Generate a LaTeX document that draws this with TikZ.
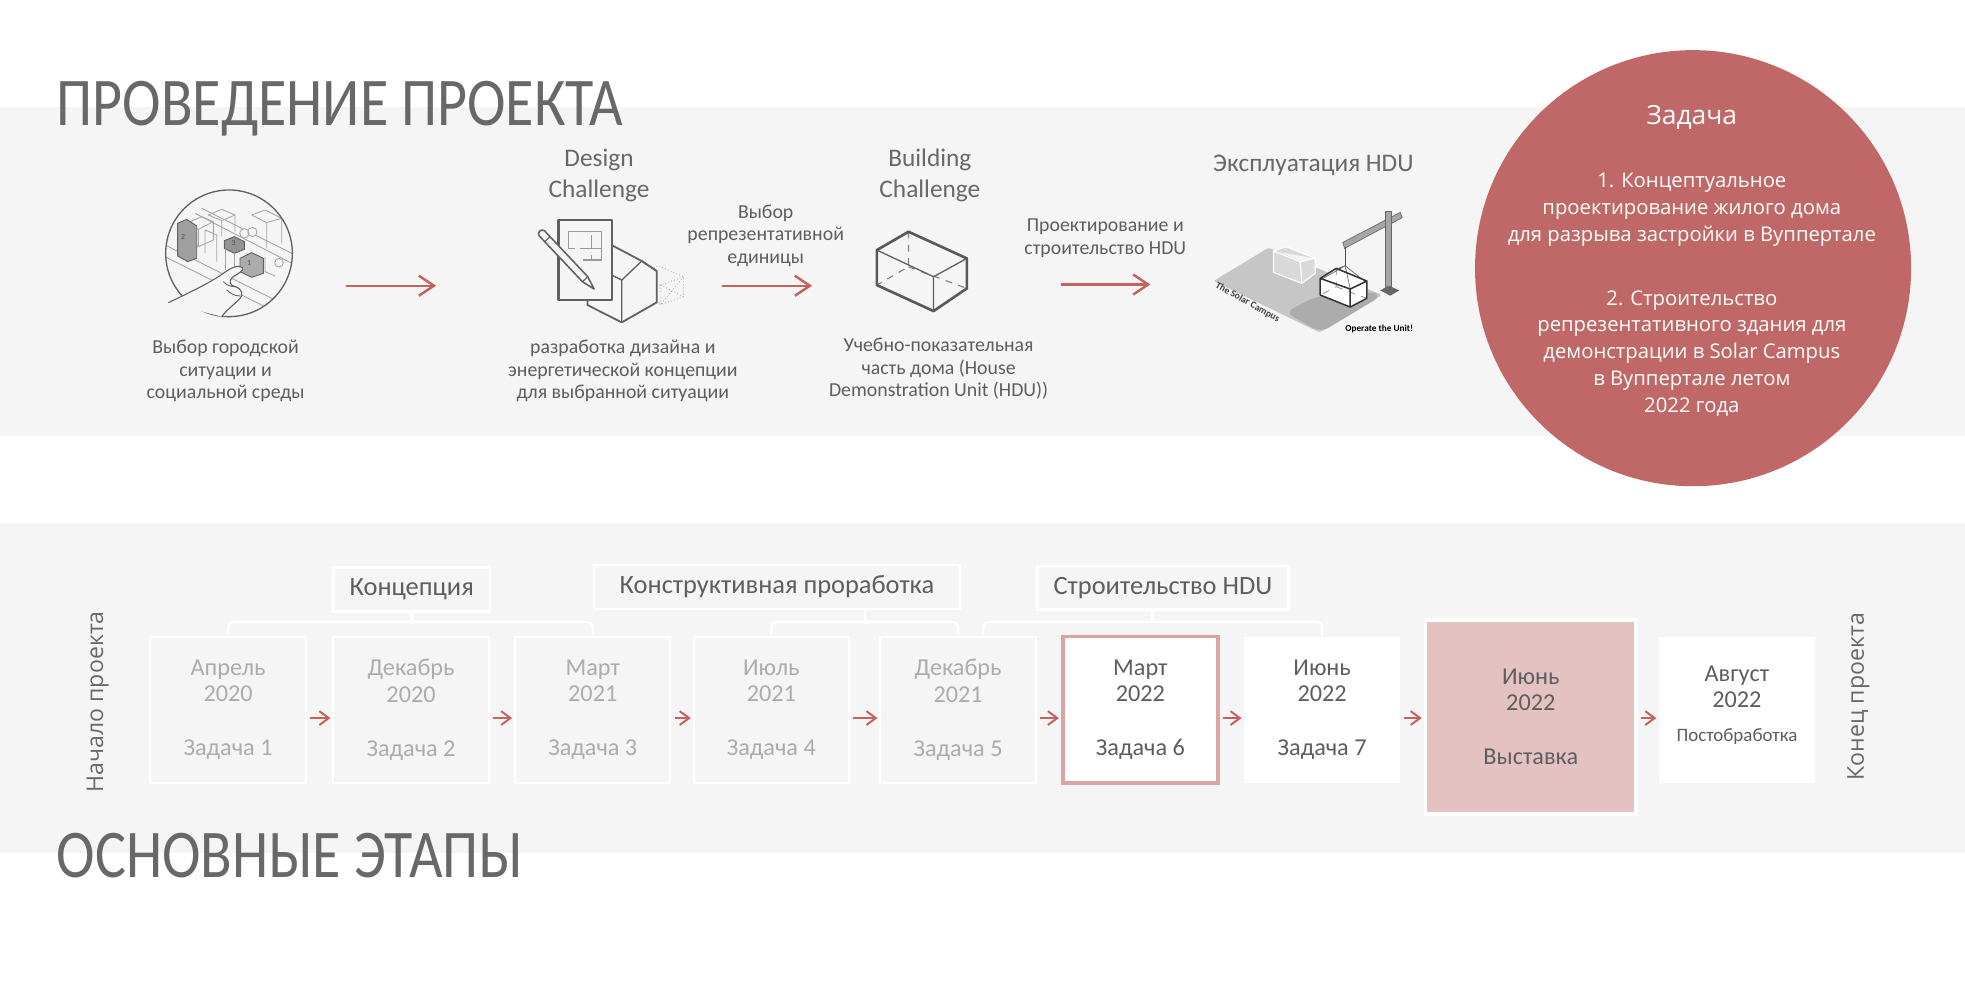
\documentclass[tikz,border=0pt]{standalone}
\usepackage{fontspec}
\setmainfont{Carlito}
\newfontfamily\titlefont[FakeStretch=0.85]{Carlito}
\newfontfamily\roundfont{Open Sans}
\usetikzlibrary{arrows.meta, positioning, calc}
\definecolor{BandGrey}{RGB}{245,245,245}
\definecolor{TextGrey}{RGB}{94,94,94}
\definecolor{TitleGrey}{RGB}{104,104,104}
\definecolor{FadeGrey}{RGB}{172,172,172}
\definecolor{ArrowRed}{RGB}{196,98,96}
\definecolor{TaskRed}{RGB}{192,104,104}
\definecolor{RoseLine}{RGB}{219,163,163}
\definecolor{RoseFill}{RGB}{228,194,194}
\definecolor{IconGrey}{RGB}{96,96,96}

\tikzset{
  bandfill/.style={fill=BandGrey},
  titletxt/.style={anchor=base west, inner sep=0pt, text=TitleGrey, font=\titlefont\fontsize{31}{31}\selectfont},
  lbltxt/.style={align=center, text=TextGrey, inner sep=0pt, font=\fontsize{9}{10.2}\selectfont},
  headtxt/.style={align=center, text=TitleGrey, inner sep=0pt, font=\fontsize{11.5}{13.7}\selectfont},
  flowarr/.style={draw=ArrowRed, line width=1.1pt, -{Straight Barb[length=2.4mm, width=3.2mm]}},
  linkarr/.style={draw=ArrowRed, line width=0.9pt, -{Straight Barb[length=1.5mm, width=2.2mm]}, shorten <=0.5mm, shorten >=0.3mm},
  stagebox/.style={draw=white, line width=0.9pt, minimum width=24.8mm, minimum height=23.4mm, inner sep=0pt, align=center, font=\fontsize{11}{12}\selectfont},
  donebox/.style={stagebox, text=FadeGrey},
  openbox/.style={stagebox, fill=white, text=TextGrey},
  grp/.style={draw=white, line width=1.1pt, minimum height=7mm, inner sep=0pt, text=TextGrey, font=\fontsize{12}{12}\selectfont},
  bracketline/.style={draw=white, line width=1.1pt, rounded corners=0.8mm},
  sidetxt/.style={rotate=90, text=TitleGrey, inner sep=0pt, font=\roundfont\fontsize{10.5}{10.5}\selectfont},
  tasktxt/.style={align=center, text=white, inner sep=0pt, font=\roundfont\fontsize{9.2}{12.2}\selectfont},
  icon/.style={draw=IconGrey, line width=0.6pt, line join=round},
}

\begin{document}
\begin{tikzpicture}[x=0.2mm, y=-0.2mm]
\useasboundingbox (0,0) rectangle (1568,798);
% grey bands
\fill[bandfill] (0,85) rectangle (1568,348);
\fill[bandfill] (0,417) rectangle (1568,681);

\node[titletxt] (ttlA) at (45,100) {ПРОВЕДЕНИЕ ПРОЕКТА};
\node[titletxt] (ttlB) at (45,700) {ОСНОВНЫЕ ЭТАПЫ};

% city icon
\begin{scope}[shift={(123.7,151.6)}, scale=0.266]
  \begin{scope}
    \clip (222,190) circle (190);
    \draw[icon, draw=gray!70, line width=0.4pt] (20,160) -- (360,330) (20,195) -- (330,350) (140,55) -- (430,200) (120,70) -- (420,225);
    \draw[icon, draw=gray!70, line width=0.4pt] (95,100) -- (140,80) -- (175,95) -- (175,150) -- (130,170) -- (95,150) -- cycle (95,100) -- (130,118) -- (175,95) (130,118) -- (130,170);
    \draw[icon, draw=gray!70, line width=0.4pt] (160,75) -- (200,58) -- (240,75) -- (240,125) (160,75) -- (200,92) -- (240,75) (200,92) -- (200,140);
    \draw[icon, draw=gray!70, line width=0.4pt] (290,75) -- (330,60) -- (380,85) -- (380,160) (290,75) -- (335,98) -- (380,85) (335,98) -- (335,175);
    \draw[icon, draw=gray!70, line width=0.4pt] (150,190) -- (150,120) -- (185,135) -- (185,215) (330,200) -- (330,245) -- (360,258);
    \fill[gray!75, draw=IconGrey, line width=0.4pt] (68,100) -- (95,88) -- (125,108) -- (125,205) -- (98,215) -- (68,198) -- cycle;
    \fill[gray!85, draw=IconGrey, line width=0.4pt] (208,152) -- (238,140) -- (268,155) -- (268,178) -- (238,190) -- (208,175) -- cycle;
    \draw[icon, draw=gray!70, line width=0.4pt] (212,178) -- (212,240) (238,190) -- (238,255);
    \fill[gray!65, draw=IconGrey, line width=0.4pt] (255,205) -- (290,188) -- (325,205) -- (325,250) -- (290,262) -- (255,245) -- cycle;
    \draw[icon, draw=gray!70, line width=0.4pt, fill=BandGrey] (268,130) circle (14) (292,126) circle (14) (372,218) circle (13);
  \end{scope}
  \node[text=black!70, font=\fontsize{3.5}{3.5}\selectfont] (blk2) at (84,140) {2};
  \node[text=black!70, font=\fontsize{3.5}{3.5}\selectfont] (blk3) at (236,160) {3};
  \node[text=black!70, font=\fontsize{3.5}{3.5}\selectfont] (blk1) at (282,218) {1};
  \draw[icon] (222,190) circle (190);
  \draw[icon, fill=BandGrey, line width=0.5pt] (40,338) .. controls (110,305) and (170,275) .. (205,250) .. controls (225,235) and (250,222) .. (262,233) .. controls (268,242) and (250,250) .. (232,262) .. controls (222,272) and (222,285) .. (240,290) .. controls (262,296) and (268,315) .. (250,330) .. controls (230,350) and (215,360) .. (200,380);
  \draw[icon, line width=0.4pt] (205,275) .. controls (215,285) and (225,290) .. (240,290) (215,300) .. controls (225,310) and (240,318) .. (255,318);
\end{scope}
\node[lbltxt] (cityLbl) at (180,296) {Выбор городской\\ситуации и\\социальной среды};

% design challenge icon
\begin{scope}[shift={(423,171.6)}, scale=0.266]
  \draw[gray!60, line width=0.4pt, densely dotted] (310,180) -- (385,152) -- (460,185) -- (460,245) -- (392,268) -- (310,235) -- cycle (310,180) -- (392,210) -- (460,185) (392,210) -- (392,268) (310,180) -- (392,268) (392,210) -- (310,235) (392,210) -- (460,245) (460,185) -- (392,268);
  \draw[icon, fill=BandGrey, line width=0.8pt] (172,250) -- (172,270) -- (275,322) -- (380,262) -- (380,168) -- (335,138) -- (250,93) -- (240,93);
  \draw[icon] (275,322) -- (275,195) -- (335,138) (275,195) -- (245,180) (380,168) -- (335,138);
  \draw[icon, line width=1pt, fill=BandGrey] (85,15) rectangle (245,255);
  \draw[icon, draw=gray!80, line width=0.5pt] (115,100) -- (115,50) -- (215,50) -- (215,135) -- (160,135) (115,100) -- (135,100) (150,100) -- (215,100) (185,60) -- (185,100) (185,120) -- (185,135);
  \draw[icon, fill=BandGrey, line width=0.7pt] (43,47) -- (173,185) -- (192,222) -- (157,200) -- (27,62) .. controls (20,52) and (33,40) .. (43,47) -- cycle;
  \draw[icon, line width=0.5pt] (60,65) -- (44,80) (173,185) -- (157,200);
\end{scope}
\node[headtxt] (design) at (478,140) {Design\\Challenge};
\node[lbltxt] (designLbl) at (497,296) {разработка дизайна и\\энергетической концепции\\для выбранной ситуации};

% building challenge icon
\begin{scope}[shift={(686.4,179.6)}, scale=0.266]
  \draw[gray, line width=0.5pt, dashed] (145,20) -- (145,125) -- (50,180) (145,125) -- (320,190);
  \draw[icon, line width=0.6pt] (50,75) -- (220,155) -- (320,100) (220,155) -- (220,258);
  \draw[icon, draw=black!65, line width=1.2pt] (50,75) -- (145,20) -- (320,100) -- (320,190) -- (220,258) -- (50,180) -- cycle;
\end{scope}
\node[headtxt] (build) at (742,140) {Building\\Challenge};
\node[lbltxt] (pick) at (611,188) {Выбор\\репрезентативной\\единицы};
\node[lbltxt] (buildLbl) at (749,294.5) {Учебно-показательная\\часть дома (House\\Demonstration Unit (HDU))};
\node[lbltxt] (make) at (882,190) {Проектирование и\\строительство HDU};

% solar campus picture
\begin{scope}[shift={(957.7,171.6)}, scale=0.266]
  \fill[gray!45, rounded corners=1pt] (40,198) -- (205,98) -- (545,240) -- (358,352) -- cycle;
  \fill[gray!65, rounded corners=4pt] (255,292) -- (345,245) -- (515,230) -- (545,242) -- (362,352) -- cycle;
  \draw[white, fill=gray!30, line width=0.5pt] (220,108) -- (258,95) -- (345,130) -- (345,175) -- (305,205) -- (220,172) -- cycle (220,108) -- (300,140) -- (345,130) (300,140) -- (305,205);
  \fill[gray!70, draw=black!60, line width=0.3pt] (428,82) -- (600,-8) -- (606,8) -- (433,100) -- cycle;
  \fill[gray!70, draw=black!60, line width=0.3pt] (556,-10) rectangle (574,228);
  \fill[black!60] (540,226) -- (566,212) -- (597,226) -- (570,242) -- cycle;
  \draw[black!70, line width=0.3pt] (435,95) -- (435,152);
  \draw[icon, draw=white, fill=white] (360,190) -- (408,160) -- (500,198) -- (500,250) -- (450,276) -- (360,240) -- cycle;
  \draw[gray, line width=0.3pt, dashed] (408,160) -- (408,215) -- (360,240) (408,215) -- (500,250);
  \draw[black!60, line width=0.3pt] (435,152) -- (365,192) (435,152) -- (408,162) (435,152) -- (495,200) (435,152) -- (450,222);
  \draw[black!80, line width=0.7pt, line join=round] (360,190) -- (408,160) -- (500,198) -- (500,250) -- (450,276) -- (360,240) -- cycle (360,190) -- (450,222) -- (500,198) (450,222) -- (450,276);
  \node[rotate=-29, text=black!75, font=\bfseries\fontsize{4.4}{4.4}\selectfont] (campusTag) at (142,262) {The Solar Campus};
  \node[text=black, font=\bfseries\fontsize{4.2}{4.2}\selectfont] (unitTag) at (537,342) {Operate the Unit!};
\end{scope}
\node[headtxt] (use) at (1048,132) {Эксплуатация HDU};

% top arrows
\coordinate (a1s) at (276,228); \coordinate (a1e) at (348,228);
\coordinate (a2s) at (576,228); \coordinate (a2e) at (648,228);
\coordinate (a3s) at (847,227); \coordinate (a3e) at (918,227);
\draw[flowarr] (a1s) -- (a1e);
\draw[flowarr] (a2s) -- (a2e);
\draw[flowarr] (a3s) -- (a3e);

% task circle
\node[circle, fill=TaskRed, minimum size=69.6mm, inner sep=0pt] (task) at (1351,214) {};
\node[text=white, inner sep=0pt, font=\roundfont\fontsize{12}{12}\selectfont] (taskHd) at (1350,94) {Задача};
\node[tasktxt] (taskA) at (1350,167.5) {1. Концептуальное\\проектирование жилого дома\\для разрыва застройки в Вуппертале};
\node[tasktxt] (taskB) at (1350,282) {2. Строительство\\репрезентативного здания для\\демонстрации в Solar Campus\\в Вуппертале летом\\2022 года};

% milestones
\node[donebox] (b1) at (182,566.5) {Апрель\\2020\\[4.4mm]Задача~1};
\node[donebox] (b2) at (328,566.5) {Декабрь\\2020\\[4.4mm]Задача~2};
\node[donebox] (b3) at (473,566.5) {Март\\2021\\[4.4mm]Задача~3};
\node[donebox] (b4) at (615.5,566.5) {Июль\\2021\\[4.4mm]Задача~4};
\node[donebox] (b5) at (764.5,566.5) {Декабрь\\2021\\[4.4mm]Задача~5};
\node[openbox, draw=RoseLine, line width=1.7pt] (b6) at (910,566.5) {Март\\2022\\[4.4mm]Задача~6};
\node[openbox, draw=none] (b7) at (1055,566.5) {Июнь\\2022\\[4.4mm]Задача~7};
\node[stagebox, fill=RoseFill, text=TextGrey, line width=1.7pt, minimum width=33.6mm, minimum height=31mm] (b8) at (1221.5,572) {Июнь\\2022\\[4.4mm]Выставка};
\node[openbox, draw=none] (b9) at (1386,566.5) {};
\node[align=center, text=TextGrey, inner sep=0pt, font=\fontsize{11}{12}\selectfont] (b9txt) at (1386,548) {Август\\2022};
\node[text=TextGrey, inner sep=0pt, font=\fontsize{8.6}{8.6}\selectfont] (b9task) at (1386,588) {Постобработка};

\coordinate (ay) at (0,573);
\draw[linkarr] (b1.east |- ay) -- (b2.west |- ay);
\draw[linkarr] (b2.east |- ay) -- (b3.west |- ay);
\draw[linkarr] (b3.east |- ay) -- (b4.west |- ay);
\draw[linkarr] (b4.east |- ay) -- (b5.west |- ay);
\draw[linkarr] (b5.east |- ay) -- (b6.west |- ay);
\draw[linkarr] (b6.east |- ay) -- (b7.west |- ay);
\draw[linkarr] (b7.east |- ay) -- (b8.west |- ay);
\draw[linkarr] (b8.east |- ay) -- (b9.west |- ay);

% phase groups
\node[grp, minimum width=25mm] (h1) at (328.5,470.5) {Концепция};
\node[grp, minimum width=58.4mm] (h2) at (620,468.5) {Конструктивная проработка};
\node[grp, minimum width=40mm] (h3) at (928,469) {Строительство HDU};
\draw[bracketline] (b1.north) -- ++(0,-11) -| (b3.north);
\draw[bracketline] (h1.south) -- ++(0,9);
\draw[bracketline] (b4.north) -- ++(0,-11) -| (b5.north);
\coordinate (k2) at ($(b4.north)!0.5!(b5.north)$);
\draw[bracketline] (k2 |- h2.south) -- ++(0,11);
\coordinate (k3) at ($(b5.north)+(20,0)$);
\draw[bracketline] (k3) -- ++(0,-11) -| (b7.north);
\coordinate (k4) at ($(k3)!0.5!(b7.north)$);
\draw[bracketline] (k4 |- h3.south) -- ++(0,10);

\node[sidetxt] (start) at (78,560) {Начало проекта};
\node[sidetxt] (finish) at (1483,556) {Конец проекта};
\end{tikzpicture}
\end{document}
